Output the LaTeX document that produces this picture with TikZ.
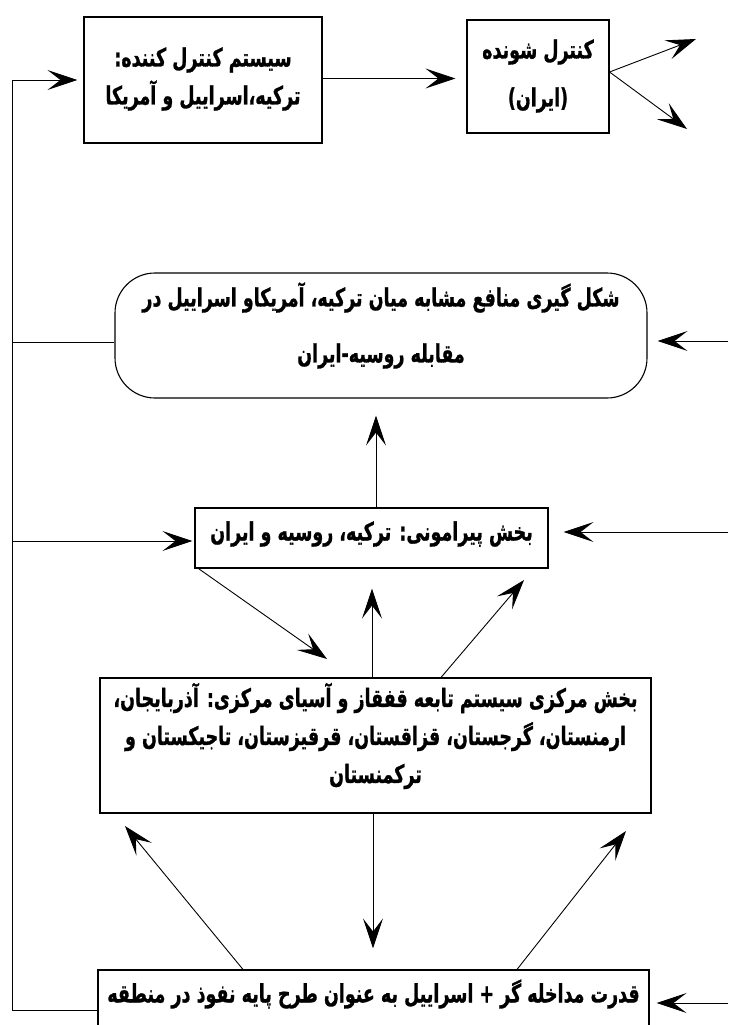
\documentclass[tikz,border=0pt]{standalone}
\usepackage{fontspec}
\usetikzlibrary{arrows.meta,calc}
\TeXXeTstate=1
\newfontfamily\fa[Script=Arabic,BoldFeatures={FakeBold=1.2}]{DejaVu Sans}
\newcommand{\rl}[1]{\scalebox{0.97}[1.4]{\beginR #1\endR}}
\newcommand{\fatxt}{\fa\bfseries\fontsize{18}{38}\selectfont}
\tikzset{
  box/.style={draw, line width=1.1pt, inner sep=0pt, align=center, font=\fatxt},
  txt/.style={inner sep=0pt, align=center, font=\fatxt},
  conn/.style={line width=0.9pt},
  arr/.style={conn, -{Stealth[length=30pt,width=20pt,inset=13pt]}},
}
\begin{document}
\begin{tikzpicture}[x=1pt,y=-1pt]
\useasboundingbox (0,0) rectangle (728,1025);
% boxes
\node[box, minimum width=238pt, minimum height=126pt] (b1) at (203,80) {};
\node[txt] (b1t) at (203,79)
  {\rl{سیستم کنترل کننده:}\\\rl{ترکیه،اسراییل و آمریکا}};
\node[box, minimum width=142pt, minimum height=113pt] (b2) at (538,76.5) {};
\node[txt, font=\fatxt\setlength{\baselineskip}{48pt}] (b2t) at (538,76)
  {\rl{کنترل شونده}\\\rl{(ایران)}};
\node[box, rounded corners=40pt, minimum width=532pt, minimum height=125pt] (r) at (381,335.5) {};
\node[txt, font=\fatxt\setlength{\baselineskip}{56pt}] (rt) at (381,325.5)
  {\rl{شکل گیری منافع مشابه میان ترکیه، آمریکاو اسراییل در}\\\rl{مقابله روسیه-ایران}};
\node[box, minimum width=353pt, minimum height=60pt] (b3) at (371.5,538) {};
\node[txt] (b3t) at (371.5,534)
  {\rl{بخش پیرامونی: ترکیه، روسیه و ایران}};
\node[box, minimum width=551pt, minimum height=135pt] (b4) at (375.5,745.5) {};
\node[txt] (b4t) at (375.5,736)
  {\rl{بخش مرکزی سیستم تابعه قفقاز و آسیای مرکزی: آذربایجان،}\\\rl{ارمنستان، گرجستان، قزاقستان، قرقیزستان، تاجیکستان و}\\\rl{ترکمنستان}};
\node[box, minimum width=551pt, minimum height=80pt] (b5) at (373.5,1010) {};
\node[txt] (b5t) at (373.5,994)
  {\rl{قدرت مداخله گر + اسراییل به عنوان طرح پایه نفوذ در منطقه}};
% helper coordinates
\coordinate (lx) at (12,0);
\coordinate (rx) at (728,0);
% top row
\coordinate (b1e) at ([yshift=1.5pt]b1.east);
\draw[arr, shorten >=11pt] (b1e) -- (b1e -| b2.west);
\coordinate (b2e) at ([yshift=4.5pt]b2.east);
\coordinate (o1) at (696,39);
\coordinate (o2) at (687,129);
\draw[arr] (b2e) -- (o1);
\draw[arr] (b2e) -- (o2);
% left feedback line
\draw[arr, shorten >=6pt] (b5.west) -| (lx |- b1.west) -- (b1.west);
\coordinate (rW) at ([yshift=-6.5pt]r.west);
\draw[conn] (lx |- rW) -- (rW);
\coordinate (b3W) at ([yshift=-3pt]b3.west);
\draw[arr, shorten >=2pt] (lx |- b3W) -- (b3W);
% right inputs
\coordinate (rE) at ([yshift=-5.5pt]r.east);
\draw[arr, shorten >=10pt] (rx |- rE) -- (rE);
\coordinate (b3E) at ([yshift=6pt]b3.east);
\draw[arr, shorten >=15pt] (rx |- b3E) -- (b3E);
\coordinate (b5E) at ([yshift=7pt]b5.east);
\draw[arr, shorten >=7pt] (rx |- b5E) -- (b5E);
% vertical links
\coordinate (b3n) at ([xshift=4.5pt]b3.north);
\draw[arr, shorten >=17pt] (b3n) -- (b3n |- r.south);
\coordinate (b4n) at ([xshift=-3.5pt]b4.north);
\draw[arr, shorten >=20pt] (b4n) -- (b4n |- b3.south);
\coordinate (b4a) at ([xshift=65.5pt]b4.north);
\coordinate (t2) at (524,580);
\draw[arr] (b4a) -- (t2);
\coordinate (t1) at (327,659);
\draw[arr] ([xshift=4pt]b3.south west) -- (t1);
\coordinate (b4s) at ([xshift=-2.5pt]b4.south);
\draw[arr, shorten >=21pt] (b4s) -- (b4s |- b5.north);
\coordinate (b5a) at ([xshift=-130.5pt]b5.north);
\coordinate (t3) at (125,826);
\draw[arr] (b5a) -- (t3);
\coordinate (b5b) at ([xshift=143.5pt]b5.north);
\coordinate (t4) at (626,831);
\draw[arr] (b5b) -- (t4);
\end{tikzpicture}
\end{document}
